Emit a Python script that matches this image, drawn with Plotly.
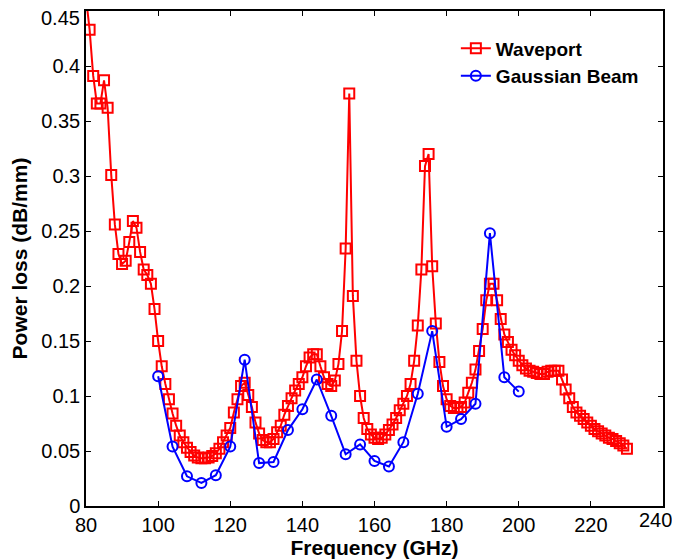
import plotly.graph_objects as go

# Waveport: 1 GHz steps from 80 to 230 GHz
wave_freq = list(range(80, 231))
wave_loss = [
    0.462, 0.433, 0.391, 0.366, 0.366, 0.387, 0.362, 0.301, 0.256, 0.229,   # 80-89
    0.220, 0.223, 0.240, 0.259, 0.253, 0.231, 0.215, 0.210, 0.202, 0.179,   # 90-99
    0.150, 0.127, 0.111, 0.097, 0.084, 0.073, 0.064, 0.058, 0.053, 0.049,   # 100-109
    0.046, 0.044, 0.0435, 0.0435, 0.044, 0.0455, 0.048, 0.052, 0.058, 0.064,  # 110-119
    0.071, 0.085, 0.097, 0.109, 0.112, 0.101, 0.090, 0.076, 0.066, 0.060,   # 120-129
    0.058, 0.058, 0.061, 0.067, 0.073, 0.083, 0.091, 0.098, 0.105, 0.111,   # 130-139
    0.117, 0.127, 0.135, 0.138, 0.138, 0.127, 0.117, 0.111, 0.109, 0.114,   # 140-149
    0.129, 0.159, 0.234, 0.375, 0.191, 0.132, 0.100, 0.080, 0.070, 0.065,   # 150-159
    0.062, 0.061, 0.062, 0.065, 0.069, 0.074, 0.080, 0.087, 0.093, 0.100,   # 160-169
    0.111, 0.132, 0.164, 0.215, 0.309, 0.320, 0.218, 0.166, 0.131, 0.109,   # 170-179
    0.097, 0.091, 0.089, 0.089, 0.090, 0.094, 0.103, 0.112, 0.124, 0.141,   # 180-189
    0.161, 0.187, 0.202, 0.202, 0.187, 0.170, 0.156, 0.149, 0.142, 0.137,   # 190-199
    0.132, 0.128, 0.125, 0.123, 0.122, 0.121, 0.120, 0.120, 0.122, 0.123,   # 200-209
    0.123, 0.123, 0.115, 0.106, 0.098, 0.090, 0.085, 0.082, 0.079, 0.076,   # 210-219
    0.073, 0.070, 0.068, 0.066, 0.064, 0.062, 0.061, 0.059, 0.057, 0.055,   # 220-229
    0.052,                                                                    # 230
]

# Gaussian beam: 4 GHz steps from 100 to 200 GHz
gauss_freq = list(range(100, 201, 4))
gauss_loss = [
    0.118, 0.054, 0.027, 0.021, 0.028, 0.054, 0.133, 0.039, 0.040, 0.069,
    0.088, 0.115, 0.082, 0.047, 0.056, 0.041, 0.036, 0.058, 0.102, 0.159,
    0.072, 0.079, 0.093, 0.248, 0.117, 0.104,
]

x_ticks = [80, 100, 120, 140, 160, 180, 200, 220, 240]
x_tick_text = ["80", "100", "120", "140", "160", "180", "200", "220", "240"]
y_ticks = [0, 0.05, 0.1, 0.15, 0.2, 0.25, 0.3, 0.35, 0.4, 0.45]
y_tick_text = ["0", "0.05", "0.1", "0.15", "0.2", "0.25", "0.3", "0.35", "0.4", "0.45"]

FONT = "Liberation Sans, Arial, sans-serif"
TICK_SIZE = 20

fig = go.Figure()
fig.add_trace(go.Scatter(
    x=wave_freq, y=wave_loss, name="<b>Waveport</b>", mode="lines+markers",
    line=dict(color="#FF0000", width=2),
    marker=dict(symbol="square-open", size=10, color="#FF0000", line=dict(width=2, color="#FF0000")),
))
fig.add_trace(go.Scatter(
    x=gauss_freq, y=gauss_loss, name="<b>Gaussian Beam</b>", mode="lines+markers",
    line=dict(color="#0000FF", width=2),
    marker=dict(symbol="circle-open", size=10, color="#0000FF", line=dict(width=2, color="#0000FF")),
))

axis_common = dict(
    showline=True, linecolor="black", linewidth=1.5, mirror="ticks",
    ticks="inside", ticklen=5, tickwidth=1, tickcolor="black",
    showgrid=False, zeroline=False, automargin=False,
    tickfont=dict(family=FONT, size=TICK_SIZE, color="black"),
)

# the edge labels (last x tick, last y tick) are drawn as annotations nudged inward,
# like the reference, so they are not cut at the page edge
x_axis_text = x_tick_text[:-1] + [""]
y_axis_text = y_tick_text[:-1] + [""]

# page body adds an 8px offset, so the figure is sized to the remaining window
fig.update_layout(
    width=672, height=552,
    margin=dict(l=78, r=17, t=3, b=54),
    paper_bgcolor="white", plot_bgcolor="white",
    font=dict(family=FONT, color="black"),
    xaxis=dict(range=[80, 240], tickvals=x_ticks, ticktext=x_axis_text,
               title=dict(text="<b>Frequency (GHz)</b>", font=dict(family=FONT, size=21), standoff=0),
               **axis_common),
    yaxis=dict(range=[0, 0.45], tickvals=y_ticks, ticktext=y_axis_text,
               title=dict(text="<b>Power loss (dB/mm)</b>", font=dict(family=FONT, size=21), standoff=8),
               **axis_common),
    legend=dict(x=0.641, y=0.963, xanchor="left", yanchor="top",
                bgcolor="rgba(255,255,255,0)", borderwidth=0,
                font=dict(family=FONT, size=19, color="black"),
                tracegroupgap=0),
    showlegend=True,
)

fig.add_annotation(
    text=x_tick_text[-1], x=x_ticks[-1], xref="x", y=0, yref="paper",
    xanchor="center", yanchor="top", xshift=-8, yshift=-1, showarrow=False,
    font=dict(family=FONT, size=TICK_SIZE, color="black"),
)
fig.add_annotation(
    text=y_tick_text[-1], x=0, xref="paper", y=y_ticks[-1], yref="y",
    xanchor="right", yanchor="middle", xshift=-4, yshift=-7, showarrow=False,
    font=dict(family=FONT, size=TICK_SIZE, color="black"),
)

fig.write_html("out.html")
